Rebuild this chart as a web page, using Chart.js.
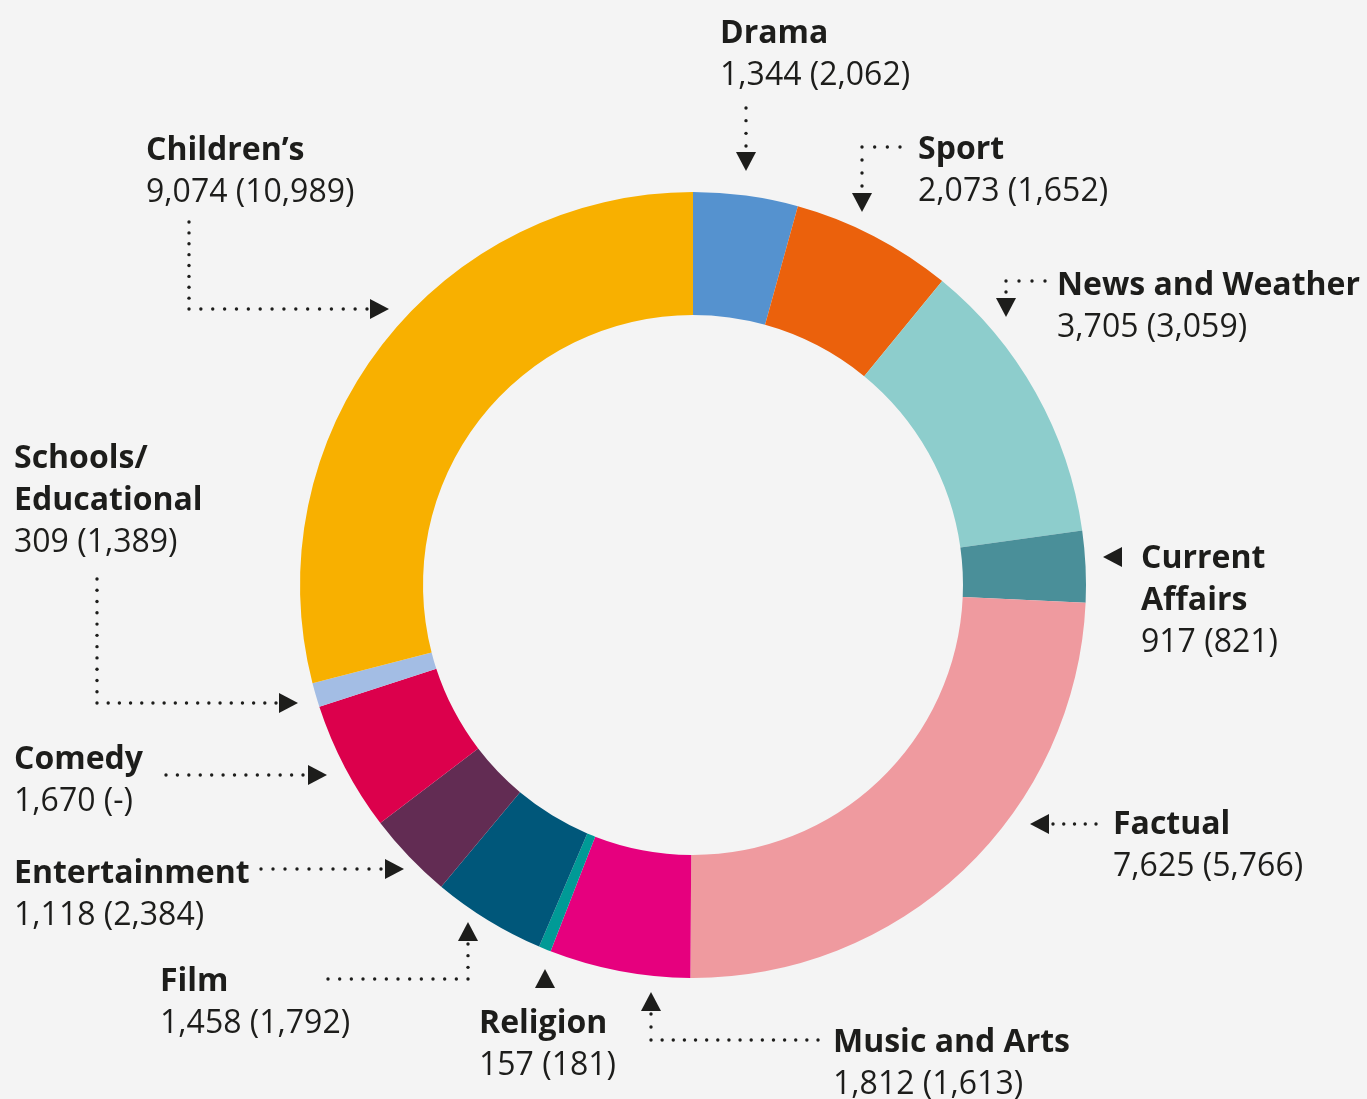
<!DOCTYPE html>
<html>
<head>
<meta charset="utf-8">
<script src="https://cdn.jsdelivr.net/npm/chart.js@4/dist/chart.umd.min.js"></script>
<style>
  html, body { margin: 0; padding: 0; background: #f4f4f4; }
  #wrap { width: 1367px; height: 1099px; }
</style>
</head>
<body>
<div id="wrap"><canvas id="chart" width="1367" height="1099"></canvas></div>
<script>
// Hours of output by genre (previous year in brackets)
const categories = ['Drama', 'Sport', 'News and Weather', 'Current Affairs', 'Factual',
  'Music and Arts', 'Religion', 'Film', 'Entertainment', 'Comedy',
  'Schools/Educational', 'Children\u2019s'];
const hours = [1344, 2073, 3705, 917, 7625, 1812, 157, 1458, 1118, 1670, 309, 9074];
const previousHours = ['2,062', '1,652', '3,059', '821', '5,766', '1,613', '181',
  '1,792', '2,384', '-', '1,389', '10,989'];
const colours = ['#5592cf', '#eb610c', '#8dcdcc', '#4a8f99', '#ef9a9f', '#e6007e',
  '#009a96', '#00577a', '#622c53', '#dc004c', '#a3bde4', '#f8b000'];

// Where each label sits and how its dotted leader runs (canvas pixels)
const labelLayout = [
  { x: 720,  y: 43,   wrap: false, path: [[746, 108], [746, 146]], head: [746, 171, 'down'] },
  { x: 918,  y: 159,  wrap: false, path: [[900, 147], [862, 147], [862, 186]], head: [862, 212, 'down'] },
  { x: 1057, y: 295,  wrap: false, path: [[1045, 281], [1006, 281], [1006, 292]], head: [1006, 317, 'down'] },
  { x: 1141, y: 568,  wrap: true,  path: [], head: [1103, 557, 'left'] },
  { x: 1113, y: 834,  wrap: false, path: [[1096, 824], [1053, 824]], head: [1030, 824, 'left'] },
  { x: 833,  y: 1052, wrap: false, path: [[818, 1040], [651, 1040], [651, 1014]], head: [651, 992, 'up'] },
  { x: 479,  y: 1033, wrap: false, path: [], head: [545, 969, 'up'] },
  { x: 160,  y: 991,  wrap: false, path: [[328, 979], [468, 979], [468, 944]], head: [468, 922, 'up'] },
  { x: 14,   y: 883,  wrap: false, path: [[261, 869], [381, 869]], head: [404, 869, 'right'] },
  { x: 14,   y: 769,  wrap: false, path: [[166, 775], [303, 775]], head: [327, 775, 'right'] },
  { x: 14,   y: 468,  wrap: true,  path: [[97, 579], [97, 703], [276, 703]], head: [298, 703, 'right'] },
  { x: 146,  y: 160,  wrap: false, path: [[189, 222], [189, 309], [367, 309]], head: [389, 309, 'right'] }
];

const INK = '#1d1d1b';
const FONT = '"Open Sans", "Noto Sans", sans-serif';
const LINE = 42;

function splitName(name, wrap) {
  if (!wrap) return [name];
  const slash = name.indexOf('/');
  if (slash >= 0) return [name.slice(0, slash + 1), name.slice(slash + 1)];
  const sp = name.indexOf(' ');
  return [name.slice(0, sp), name.slice(sp + 1)];
}

function dottedPath(ctx, pts) {
  for (let i = 0; i < pts.length - 1; i++) {
    const [x1, y1] = pts[i], [x2, y2] = pts[i + 1];
    const len = Math.hypot(x2 - x1, y2 - y1);
    const n = Math.max(1, Math.round(len / 11.5));
    for (let k = (i === 0 ? 0 : 1); k <= n; k++) {
      const t = k / n;
      ctx.beginPath();
      ctx.arc(x1 + (x2 - x1) * t, y1 + (y2 - y1) * t, 1.7, 0, Math.PI * 2);
      ctx.fill();
    }
  }
}

function arrowHead(ctx, x, y, dir) {
  const L = 19, W = 10;
  ctx.beginPath();
  ctx.moveTo(x, y);
  if (dir === 'down')  { ctx.lineTo(x - W, y - L); ctx.lineTo(x + W, y - L); }
  if (dir === 'up')    { ctx.lineTo(x - W, y + L); ctx.lineTo(x + W, y + L); }
  if (dir === 'left')  { ctx.lineTo(x + L, y - W); ctx.lineTo(x + L, y + W); }
  if (dir === 'right') { ctx.lineTo(x - L, y - W); ctx.lineTo(x - L, y + W); }
  ctx.closePath();
  ctx.fill();
}

const calloutPlugin = {
  id: 'callouts',
  afterDraw(chart) {
    const ctx = chart.ctx;
    ctx.save();
    ctx.fillStyle = INK;
    ctx.textBaseline = 'alphabetic';
    ctx.textAlign = 'left';
    categories.forEach((name, i) => {
      const lay = labelLayout[i];
      const lines = splitName(name, lay.wrap);
      ctx.font = 'bold 32px ' + FONT;
      lines.forEach((ln, j) => ctx.fillText(ln, lay.x, lay.y + j * LINE));
      ctx.font = '32px ' + FONT;
      const val = hours[i].toLocaleString('en-GB') + ' (' + previousHours[i] + ')';
      ctx.fillText(val, lay.x, lay.y + lines.length * LINE);
      if (lay.path.length) dottedPath(ctx, lay.path);
      arrowHead(ctx, lay.head[0], lay.head[1], lay.head[2]);
    });
    ctx.restore();
  }
};

new Chart(document.getElementById('chart'), {
  type: 'doughnut',
  data: {
    labels: categories,
    datasets: [{
      data: hours,
      backgroundColor: colours,
      borderWidth: 0,
      hoverOffset: 0
    }]
  },
  options: {
    responsive: false,
    animation: false,
    cutout: '68.7%',
    layout: { padding: { left: 300, right: 281, top: 192, bottom: 121 } },
    plugins: {
      legend: { display: false },
      tooltip: { enabled: false }
    }
  },
  plugins: [calloutPlugin]
});
</script>
</body>
</html>
